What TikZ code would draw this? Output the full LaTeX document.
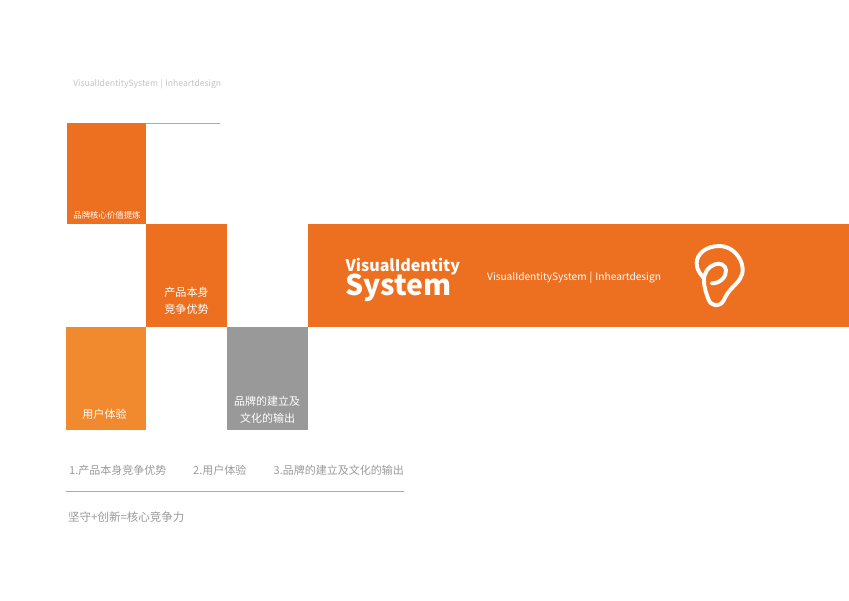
\documentclass[tikz,border=0pt]{standalone}
\usepackage{fontspec}
\setmainfont{Noto Sans CJK SC}
\definecolor{brandorange}{HTML}{ED7020}
\definecolor{softorange}{HTML}{F18A2E}
\definecolor{midgrey}{HTML}{999999}
\definecolor{txtgrey}{HTML}{9A9A9A}
\definecolor{paletxt}{HTML}{C4C4C4}
\definecolor{rulegrey}{HTML}{ABABAB}
\tikzset{
  tile/.style={anchor=north west,inner sep=0pt,outer sep=0pt,minimum width=#1},
  lbl/.style={inner sep=0pt,text=white,font=\fontsize{11.1}{17}\selectfont,align=center},
  captxt/.style={inner sep=0pt,text=txtgrey,font=\fontsize{11}{14}\selectfont,anchor=west},
  rulel/.style={draw=rulegrey,line width=1.1pt},
}
\begin{document}
\begin{tikzpicture}[x=1pt,y=-1pt]
\useasboundingbox (0,0) rectangle (849,600);
\fill[white] (0,0) rectangle (849,600);
% tiles
\node[tile=78.7pt,minimum height=100.7pt,fill=brandorange] (core) at (67.3,123.3) {};
\node[tile=81pt,minimum height=103pt,fill=brandorange] (product) at (146,224) {};
\node[tile=80pt,minimum height=102.7pt,fill=softorange] (user) at (66,327.3) {};
\node[tile=81pt,minimum height=102.7pt,fill=midgrey] (brand) at (227,327.3) {};
\node[tile=541pt,minimum height=103pt,fill=brandorange] (band) at (308,224) {};
% tile labels
\node[lbl,font=\fontsize{8.4}{10}\selectfont] (corel) at (107,215) {品牌核心价值提炼};
\node[lbl] (productl) at (186.5,301) {产品本身\\竞争优势};
\node[lbl] (userl) at (104.5,414.5) {用户体验};
\node[lbl,font=\fontsize{11}{17}\selectfont] (brandl) at (267,409.5) {品牌的建立及\\[-0.3pt]\hspace*{1pt}文化的输出};
% header
\node[inner sep=0pt,anchor=west,text=paletxt,font=\fontsize{8.65}{11}\selectfont] (head) at (73,84) {VisualIdentitySystem\hspace{2.5pt}|\hspace{2.5pt}Inheartdesign};
\coordinate (toprule) at (220,123.7);
\draw[draw=rulegrey,line width=0.7pt] (core.north east) ++(0,0.4) -- (toprule);
% band content
\node[inner sep=0pt,anchor=west,text=white,font=\fontsize{16}{17}\selectfont\bfseries] (vi) at (345.5,266.5) {VisualIdentity};
\node[inner sep=0pt,anchor=west,text=white,font=\fontsize{28.5}{30}\selectfont\bfseries] (sys) at (345,288) {System};
\node[inner sep=0pt,anchor=west,text=white,font=\fontsize{10.15}{12}\selectfont] (tag) at (487,278) {VisualIdentitySystem\hspace{3pt}|\hspace{3pt}Inheartdesign};
% ear logo
\begin{scope}[shift={(680,235)},x=0.3333pt,y=-0.3333pt]
\draw[white,line width=3.9pt,line cap=round,line join=round]
 (95,145) .. controls (120,146) and (140,125) .. (138,105)
 .. controls (136,90) and (120,82) .. (105,88)
 .. controls (85,95) and (72,112) .. (72,135)
 .. controls (72,160) and (80,178) .. (85,192)
 .. controls (92,214) and (118,218) .. (130,198)
 .. controls (138,182) and (145,170) .. (155,160)
 .. controls (175,140) and (190,125) .. (188,100)
 .. controls (185,65) and (155,33) .. (118,33)
 .. controls (80,33) and (50,55) .. (50,85)
 .. controls (50,105) and (62,118) .. (72,130);
\end{scope}
% bottom captions
\node[captxt] (c1) at (69,470.5) {1.产品本身竞争优势};
\node[captxt] (c2) at (193,470.5) {2.用户体验};
\node[captxt] (c3) at (273.5,470.5) {3.品牌的建立及文化的输出};
\coordinate (bl) at (66,491.5);
\coordinate (br) at (404,491.5);
\draw[rulel] (bl) -- (br);
\node[captxt,font=\fontsize{11.5}{14}\selectfont] (c4) at (68,517.5) {坚守+创新=核心竞争力};
\end{tikzpicture}
\end{document}
